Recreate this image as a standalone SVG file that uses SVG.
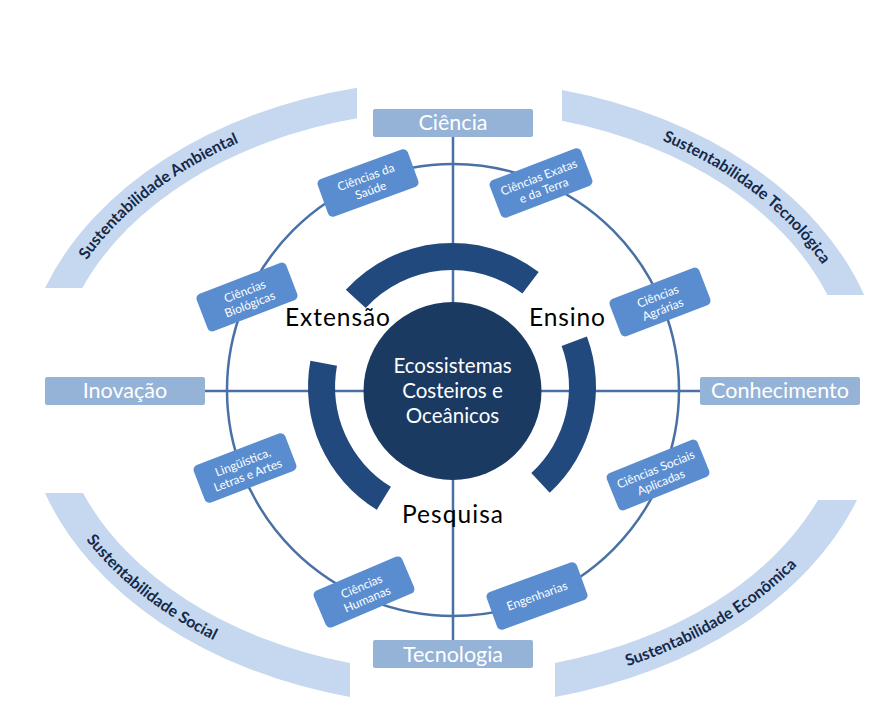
<svg xmlns="http://www.w3.org/2000/svg" width="885" height="712" viewBox="0 0 885 712">
<defs>
<style>
.band{fill:#c6d8ef}
.bandtxt{font-family:Lato,"Liberation Sans",sans-serif;font-weight:bold;font-size:16px;fill:#14294a}
.axis{fill:#95b3d7}
.axistxt{font-family:Lato,"Liberation Sans",sans-serif;font-size:21.5px;fill:#ffffff;text-anchor:middle}
.line{stroke:#4a71a5;stroke-width:2.5;fill:none}
.sub{fill:#5a8dd0}
.subtxt{font-family:Lato,"Liberation Sans",sans-serif;font-size:12px;fill:#ffffff;text-anchor:middle}
.ring{fill:#22497e}
.lbl{font-family:Lato,"Liberation Sans",sans-serif;font-size:24.5px;fill:#000000;text-anchor:middle}
.ctr{font-family:Lato,"Liberation Sans",sans-serif;font-size:20.5px;fill:#ffffff;text-anchor:middle}
</style>
<path id="tpTL" d="M 50.2,339.7 A 407 288 0 0 1 354.1,108.6"/>
<path id="tpTR" d="M 545,107.4 A 407 288 0 0 1 854.5,334.7"/>
<path id="tpBL" d="M 38.4,444.1 A 423 302 0 0 0 351.2,685"/>
<path id="tpBR" d="M 497,692 A 423 302 0 0 0 853.4,484.7"/>
</defs>
<rect width="885" height="712" fill="#ffffff"/>

<g id="band-ambiental">
<path class="band" d="M 45,288 A 432 310 0 0 1 357,87.7 L 357,118.3 A 398 280 0 0 0 82.3,288 Z"/>
<text class="bandtxt"><textPath href="#tpTL" startOffset="46%" text-anchor="middle">Sustentabilidade Ambiental</textPath></text>
</g>
<g id="band-tecnologica">
<path class="band" d="M 562,90 A 432 310 0 0 1 864.2,295 L 827.4,295 A 398 280 0 0 0 562,120.7 Z"/>
<text class="bandtxt"><textPath href="#tpTR" startOffset="55.5%" text-anchor="middle">Sustentabilidade Tecnológica</textPath></text>
</g>
<g id="band-social">
<path class="band" d="M 45,493 A 432 310 0 0 0 350,697 L 350,663 A 398 280 0 0 1 83,493 Z"/>
<text class="bandtxt"><textPath href="#tpBL" startOffset="45.5%" text-anchor="middle">Sustentabilidade Social</textPath></text>
</g>
<g id="band-economica">
<path class="band" d="M 857,500 A 432 310 0 0 1 555,697 L 555,663 A 398 280 0 0 0 818,500 Z"/>
<text class="bandtxt"><textPath href="#tpBR" startOffset="54%" text-anchor="middle">Sustentabilidade Econômica</textPath></text>
</g>

<g id="connectors">
<line class="line" x1="453" y1="137" x2="453" y2="640"/>
<line class="line" x1="205" y1="391" x2="700" y2="391"/>
<circle class="line" cx="453" cy="390" r="226"/>
</g>

<g id="arc-top"><path class="ring" d="M 538.7,272 A 144 144 0 0 0 345.8,289.7 L 365.7,308 A 117 117 0 0 1 522.4,293.6 Z"/></g>
<g id="arc-right"><path class="ring" d="M 586.9,336.6 A 144 144 0 0 1 549.7,492.8 L 531.3,473 A 117 117 0 0 0 561.6,346 Z"/></g>
<g id="arc-left"><path class="ring" d="M 310.4,360.8 A 144 144 0 0 0 376.8,509.8 L 390.9,486.8 A 117 117 0 0 1 337,365.7 Z"/></g>

<g id="center">
<circle cx="452.5" cy="391" r="89" fill="#1b3a62"/>
<text class="ctr" x="452.5" y="373">Ecossistemas</text>
<text class="ctr" x="452.5" y="398">Costeiros e</text>
<text class="ctr" x="452.5" y="423">Oceânicos</text>
</g>

<g id="label-extensao"><text class="lbl" x="337.5" y="326" textLength="105" lengthAdjust="spacing">Extensão</text></g>
<g id="label-ensino"><text class="lbl" x="567" y="326" textLength="76" lengthAdjust="spacing">Ensino</text></g>
<g id="label-pesquisa"><text class="lbl" x="452.5" y="523" textLength="101" lengthAdjust="spacing">Pesquisa</text></g>

<g id="ciencia"><rect class="axis" x="373" y="109" width="160" height="28" rx="2"/><text class="axistxt" x="453" y="130">Ciência</text></g>
<g id="inovacao"><rect class="axis" x="45" y="377" width="160" height="28" rx="2"/><text class="axistxt" x="125" y="398">Inovação</text></g>
<g id="conhecimento"><rect class="axis" x="700" y="377" width="160" height="28" rx="2"/><text class="axistxt" x="780" y="398">Conhecimento</text></g>
<g id="tecnologia"><rect class="axis" x="373" y="640" width="160" height="28" rx="2"/><text class="axistxt" x="453" y="661.5">Tecnologia</text></g>

<g id="saude" transform="translate(368,183) rotate(-20)"><rect class="sub" x="-48" y="-20" width="96" height="40" rx="5"/><text class="subtxt" y="-2">Ciências da</text><text class="subtxt" y="12">Saúde</text></g>
<g id="exatas" transform="translate(541,183) rotate(-21)"><rect class="sub" x="-49" y="-20" width="98" height="40" rx="5"/><text class="subtxt" y="-2">Ciências Exatas</text><text class="subtxt" y="12">e da Terra</text></g>
<g id="biologicas" transform="translate(247,297) rotate(-21)"><rect class="sub" x="-48" y="-20" width="96" height="40" rx="5"/><text class="subtxt" y="-2">Ciências</text><text class="subtxt" y="12">Biológicas</text></g>
<g id="agrarias" transform="translate(660,302) rotate(-21)"><rect class="sub" x="-48" y="-20" width="96" height="40" rx="5"/><text class="subtxt" y="-2">Ciências</text><text class="subtxt" y="12">Agrárias</text></g>
<g id="linguistica" transform="translate(245,468) rotate(-21)"><rect class="sub" x="-49" y="-20" width="98" height="40" rx="5"/><text class="subtxt" y="-2">Lingüística,</text><text class="subtxt" y="12">Letras e Artes</text></g>
<g id="sociais" transform="translate(658,475) rotate(-22)"><rect class="sub" x="-49" y="-20" width="98" height="40" rx="5"/><text class="subtxt" y="-2">Ciências Sociais</text><text class="subtxt" y="12">Aplicadas</text></g>
<g id="humanas" transform="translate(364,592) rotate(-23)"><rect class="sub" x="-48" y="-20" width="96" height="40" rx="5"/><text class="subtxt" y="-2">Ciências</text><text class="subtxt" y="12">Humanas</text></g>
<g id="engenharias" transform="translate(537,596) rotate(-20)"><rect class="sub" x="-48" y="-20" width="96" height="40" rx="5"/><text class="subtxt" y="4">Engenharias</text></g>
</svg>
